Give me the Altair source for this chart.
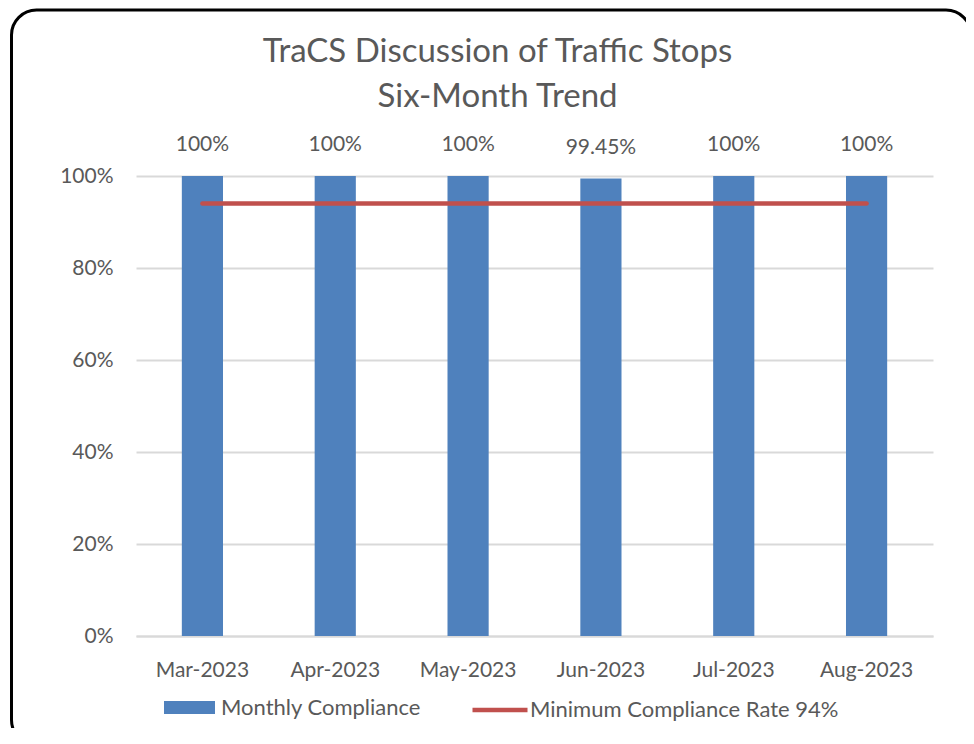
import altair as alt
import pandas as pd

months = ["Mar-2023", "Apr-2023", "May-2023", "Jun-2023", "Jul-2023", "Aug-2023"]
compliance = [1.0, 1.0, 1.0, 0.9945, 1.0, 1.0]
minimum = [0.94, 0.94, 0.94, 0.94, 0.94, 0.94]
bar_series = "Monthly Compliance"
line_series = "Minimum Compliance Rate 94%"
title_lines = ["TraCS Discussion of Traffic Stops", "Six-Month Trend"]

df = pd.DataFrame({
    "month": months,
    "compliance": compliance,
    "minimum": minimum,
    "bar_series": [bar_series] * len(months),
    "line_series": [line_series] * len(months),
})

FONT = "Lato"
GRAY = "#595959"
BLUE = "#4F81BD"
RED = "#C0504D"

x_enc = alt.X("month:N", sort=months, title=None,
              scale=alt.Scale(paddingInner=0.69, paddingOuter=0.345),
              axis=alt.Axis(labelAngle=0, labelFontSize=21, labelColor=GRAY, labelFont=FONT,
                            labelPadding=23, ticks=False, domain=True, domainColor="#D9D9D9",
                            domainWidth=2, grid=False))
y_scale = alt.Scale(domain=[0, 1])

bars = alt.Chart(df).mark_bar().encode(
    x=x_enc,
    y=alt.Y("compliance:Q", scale=y_scale, title=None,
            axis=alt.Axis(format="%", values=[0, 0.2, 0.4, 0.6, 0.8, 1.0], labelFontSize=21,
                          labelColor=GRAY, labelFont=FONT, labelPadding=23, ticks=False,
                          domain=False, gridColor="#D9D9D9", gridWidth=2)),
    fill=alt.Fill("bar_series:N", title=None,
                  scale=alt.Scale(domain=[bar_series], range=[BLUE]),
                  legend=alt.Legend(orient="none", legendX=28, legendY=506,
                                    symbolType="M-1,-0.255H1V0.255H-1Z", symbolSize=2601,
                                    symbolStrokeWidth=0, symbolOpacity=1,
                                    labelFontSize=22, labelColor=GRAY, labelFont=FONT,
                                    labelOffset=6, labelLimit=500, padding=0)),
)

line = alt.Chart(df).mark_line(strokeWidth=4.5, strokeCap="round").encode(
    x=alt.X("month:N", sort=months),
    y=alt.Y("minimum:Q", scale=y_scale),
    stroke=alt.Stroke("line_series:N", title=None,
                      scale=alt.Scale(domain=[line_series], range=[RED]),
                      legend=alt.Legend(orient="none", legendX=334, legendY=504,
                                        symbolType="stroke", symbolSize=3025,
                                        symbolStrokeWidth=4.5,
                                        labelFontSize=22, labelColor=GRAY, labelFont=FONT,
                                        labelOffset=0, labelLimit=500, padding=0)),
)

labels = alt.Chart(df).mark_text(dy=-25, baseline="alphabetic", fontSize=21, font=FONT,
                                 color=GRAY).encode(
    x=alt.X("month:N", sort=months),
    y=alt.Y("compliance:Q", scale=y_scale),
    text=alt.Text("compliance:Q", format=".2~%"),
)

border = alt.Chart(pd.DataFrame({"a": [0]})).mark_rect(
    filled=False, stroke="black", strokeWidth=3, cornerRadius=25
).encode(
    x=alt.value(-124.5), x2=alt.value(835),
    y=alt.value(-166), y2=alt.value(569),
)

chart = alt.layer(bars, line, labels, border).properties(
    width=797, height=460,
    padding={"left": 128, "top": 168, "right": 33, "bottom": 92},
    autosize=alt.AutoSizeParams(type="none"),
    title=alt.TitleParams(title_lines, fontSize=33, font=FONT, color=GRAY, fontWeight="normal",
                          lineHeight=45, anchor="middle", dx=-37, offset=0, dy=105),
).configure(background="white").configure_view(stroke=None, strokeWidth=0).configure_axisX(
    grid=False
)

chart.save("out.html", embed_options={"renderer": "svg", "actions": False})
